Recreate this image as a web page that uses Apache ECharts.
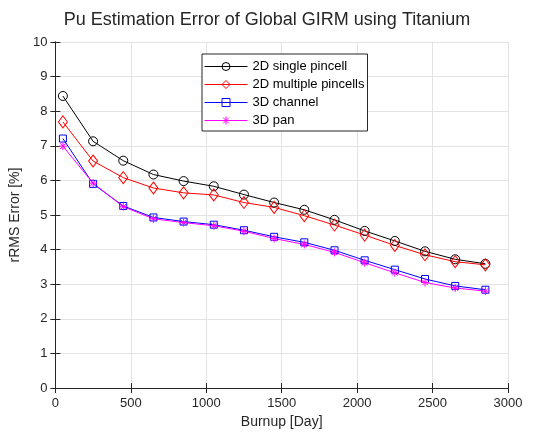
<!DOCTYPE html>
<html>
<head>
<meta charset="utf-8">
<script src="https://cdn.jsdelivr.net/npm/echarts@6/dist/echarts.min.js"></script>
<style>
  html, body { margin: 0; padding: 0; background: #fff; }
  #chart { width: 534px; height: 435px; }
</style>
</head>
<body>
<div id="chart"></div>
<script>
// burnup points [Day]
var burnup = [50, 250, 450, 650, 850, 1050, 1250, 1450, 1650, 1850, 2050, 2250, 2450, 2650, 2850];
var single2D = [8.44, 7.13, 6.57, 6.17, 5.98, 5.83, 5.59, 5.36, 5.15, 4.86, 4.54, 4.25, 3.95, 3.72, 3.59];
var multiple2D = [7.69, 6.56, 6.08, 5.78, 5.64, 5.58, 5.36, 5.22, 4.98, 4.71, 4.42, 4.12, 3.85, 3.65, 3.56];
var channel3D = [7.21, 5.90, 5.26, 4.93, 4.81, 4.72, 4.56, 4.37, 4.21, 3.98, 3.69, 3.42, 3.15, 2.95, 2.84];
var pan3D = [6.99, 5.92, 5.24, 4.89, 4.78, 4.69, 4.53, 4.32, 4.15, 3.92, 3.62, 3.33, 3.05, 2.89, 2.80];
var seriesNames = ['2D single pincell', '2D multiple pincells', '3D channel', '3D pan'];

function pairs(ys) {
  return burnup.map(function (x, i) { return [x, ys[i]]; });
}

var asterisk = 'path://M5,0L5,10M0,5L10,5M1.5,1.5L8.5,8.5M8.5,1.5L1.5,8.5';
var hollow = 'rgba(255,255,255,0)';

var myChart = echarts.init(document.getElementById('chart'));
var font = 'Arial, "Liberation Sans", sans-serif';
var axisCommon = {
  axisLine: { show: true, lineStyle: { color: '#262626', width: 1 } },
  axisTick: { show: true, inside: true, length: 5, lineStyle: { color: '#262626' } },
  axisLabel: { color: '#262626', fontSize: 13, fontFamily: font, formatter: function (v) { return String(v); } },
  splitLine: { show: true, lineStyle: { color: '#e3e3e3', width: 1 } }
};
var option = {
  backgroundColor: '#fff',
  animation: false,
  title: {
    text: 'Pu Estimation Error of Global GIRM using Titanium',
    left: 'center',
    top: 6,
    textStyle: { fontSize: 18, fontWeight: 'normal', color: '#262626', fontFamily: font }
  },
  legend: {
    orient: 'vertical',
    left: 202,
    top: 54,
    padding: [6, 3, 4, 2],
    itemWidth: 43,
    itemHeight: 10,
    itemGap: 5,
    backgroundColor: '#fff',
    borderColor: '#262626',
    borderWidth: 1,
    borderRadius: 0,
    lineStyle: { width: 1 },
    itemStyle: { borderWidth: 1 },
    textStyle: { fontSize: 13, color: '#000', fontFamily: font },
    data: seriesNames
  },
  grid: { left: 52, right: 26, top: 42, bottom: 47 },
  xAxis: [
    Object.assign({}, axisCommon, {
      type: 'value', min: 0, max: 3000, interval: 500,
      name: 'Burnup [Day]', nameLocation: 'middle', nameGap: 26,
      nameTextStyle: { fontSize: 14, color: '#262626', fontFamily: font },
      axisLabel: { color: '#262626', fontSize: 13, fontFamily: font, margin: 9, formatter: function (v) { return String(v); } }
    }),
    {
      type: 'value', min: 0, max: 3000, interval: 500, position: 'top',
      axisLine: { show: true, lineStyle: { color: '#262626' } },
      axisTick: { show: true, inside: true, length: 5, lineStyle: { color: '#262626' } },
      axisLabel: { show: false }, splitLine: { show: false }
    }
  ],
  yAxis: [
    Object.assign({}, axisCommon, {
      type: 'value', min: 0, max: 10, interval: 1,
      name: 'rRMS Error [%]', nameLocation: 'middle', nameGap: 23,
      nameTextStyle: { fontSize: 14, color: '#262626', fontFamily: font }
    }),
    {
      type: 'value', min: 0, max: 10, interval: 1, position: 'right',
      axisLine: { show: true, lineStyle: { color: '#262626' } },
      axisTick: { show: true, inside: true, length: 5, lineStyle: { color: '#262626' } },
      axisLabel: { show: false }, splitLine: { show: false }
    }
  ],
  series: [
    {
      name: seriesNames[0], type: 'line', data: pairs(single2D),
      symbol: 'circle', symbolSize: 9,
      lineStyle: { color: '#000', width: 1 },
      itemStyle: { color: hollow, borderColor: '#000', borderWidth: 1 }
    },
    {
      name: seriesNames[1], type: 'line', data: pairs(multiple2D),
      symbol: 'diamond', symbolSize: [9, 12],
      lineStyle: { color: '#ff0000', width: 1 },
      itemStyle: { color: hollow, borderColor: '#ff0000', borderWidth: 1 }
    },
    {
      name: seriesNames[2], type: 'line', data: pairs(channel3D),
      symbol: 'rect', symbolSize: 7,
      lineStyle: { color: '#0000ff', width: 1 },
      itemStyle: { color: hollow, borderColor: '#0000ff', borderWidth: 1 }
    },
    {
      name: seriesNames[3], type: 'line', data: pairs(pan3D),
      symbol: asterisk, symbolSize: 8,
      lineStyle: { color: '#ff00ff', width: 1 },
      itemStyle: { color: '#ff00ff', borderColor: '#ff00ff', borderWidth: 1 }
    }
  ]
};
myChart.setOption(option);
</script>
</body>
</html>
